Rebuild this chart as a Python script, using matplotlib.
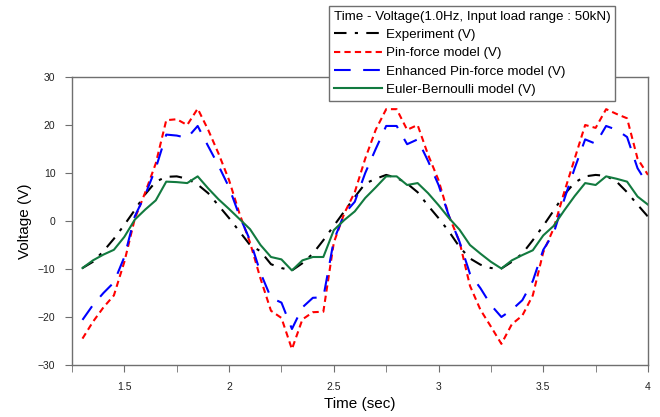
import numpy as np
import matplotlib
matplotlib.use('Agg')
import matplotlib.pyplot as plt
from matplotlib.ticker import MultipleLocator

plt.rcParams['font.family'] = ['Liberation Sans', 'DejaVu Sans']

# time axis (sec), sampled every 0.05 s
time = np.round(np.arange(1.30, 4.0001, 0.05), 2)

experiment = [-9.8, -8.5, -6.3, -3.7, -0.8, 2.3, 5.6, 8.2, 9.2, 9.3,
              8.8, 7.6, 5.8, 3.2, 0.6, -2.2, -5.0, -6.3, -9.0, -9.8,
              -10.3, -8.8, -6.8, -4.0, -1.0, 2.0, 5.0, 7.8, 8.8, 9.6,
              9.0, 7.8, 6.0, 3.2, 0.6, -2.2, -5.4, -7.8, -9.1, -9.8,
              -9.9, -8.5, -6.8, -4.0, -1.0, 2.2, 5.5, 8.0, 9.3, 9.6,
              9.4, 8.2, 6.0, 3.4, 0.9]
pin_force = [-24.5, -21.0, -18.0, -15.5, -8.5, 0.5, 6.0, 12.0, 21.0, 21.2,
             20.0, 23.4, 19.0, 14.0, 8.5, 1.5, -4.5, -12.0, -18.7, -20.2,
             -26.7, -20.5, -19.0, -18.9, -4.5, 1.6, 6.0, 13.0, 19.0, 23.3,
             23.3, 19.0, 20.0, 13.8, 8.5, 1.0, -4.3, -13.5, -18.5, -22.0,
             -25.6, -21.5, -19.7, -15.5, -6.5, -1.5, 6.0, 13.0, 20.0, 19.4,
             23.3, 22.3, 21.4, 13.0, 9.6]
enhanced = [-20.6, -17.5, -15.0, -12.8, -7.5, 1.0, 5.5, 11.0, 18.0, 17.8,
            17.3, 19.8, 15.6, 11.5, 7.0, 1.0, -4.0, -10.8, -16.0, -17.0,
            -22.5, -18.0, -16.0, -15.9, -4.0, 1.5, 4.0, 10.0, 15.0, 19.8,
            19.8, 16.0, 17.0, 12.5, 7.5, 1.0, -4.3, -11.0, -14.0, -17.5,
            -20.0, -18.5, -16.5, -12.5, -6.0, -2.5, 4.5, 11.0, 17.0, 16.1,
            19.8, 19.0, 17.5, 11.0, 7.5]
euler = [-9.8, -8.2, -7.0, -6.0, -3.3, 0.3, 2.4, 4.3, 8.2, 8.1,
         7.9, 9.3, 6.8, 4.5, 2.5, 0.4, -1.7, -5.0, -7.5, -8.0,
         -10.3, -8.2, -7.5, -7.5, -1.9, 0.2, 2.0, 4.8, 7.0, 9.3,
         9.3, 7.5, 7.9, 5.8, 3.3, 0.6, -1.8, -5.0, -6.8, -8.5,
         -9.9, -8.2, -7.1, -6.1, -3.0, -1.0, 2.2, 5.2, 7.9, 7.5,
         9.3, 8.8, 8.2, 5.1, 3.4]

fig = plt.figure(figsize=(6.6, 4.17), dpi=100)
ax = fig.add_axes([72/660, 1 - 365/417, 576/660, 288/417])

ax.plot(time, experiment, color='black', lw=1.5, ls=(0, (6, 4, 1.5, 4)),
        label='Experiment (V)')
ax.plot(time, pin_force, color='#ff0000', lw=1.5, ls=(0, (3, 2)),
        label='Pin-force model (V)')
ax.plot(time, enhanced, color='#0000ff', lw=1.5, ls=(0, (8, 6)),
        label='Enhanced Pin-force model (V)')
ax.plot(time, euler, color='#127a3f', lw=1.5, ls='-',
        label='Euler-Bernoulli model (V)')

ax.set_xlim(1.25, 4.0)
ax.set_ylim(-30, 30)
ax.xaxis.set_minor_locator(MultipleLocator(0.25))
ax.yaxis.set_major_locator(MultipleLocator(10))
ax.set_xticks([1.5, 2, 2.5, 3, 3.5, 4])
ax.set_xticklabels(['1.5', '2', '2.5', '3', '3.5', '4'])

for s in ax.spines.values():
    s.set_color('#6f6f6f')
    s.set_linewidth(1)
ax.tick_params(which='both', direction='out', color='#6f6f6f', labelsize=7.5,
               labelcolor='#222222')
ax.tick_params(which='major', length=5, pad=7)
ax.tick_params(which='minor', length=5)

ax.set_xlabel('Time (sec)', fontsize=11, labelpad=4)
ax.set_ylabel('Voltage (V)', fontsize=11, labelpad=4)

leg = fig.legend(loc='upper left', bbox_to_anchor=(329/660, 1 - 6/417),
                 title='Time - Voltage(1.0Hz, Input load range : 50kN)',
                 fontsize=9.6, title_fontsize=9.6, frameon=True, fancybox=False,
                 handlelength=3.6, labelspacing=0.45, borderpad=0.35,
                 handletextpad=0.3, borderaxespad=0)
leg._legend_box.align = 'left'
leg.get_frame().set_edgecolor('#6f6f6f')
leg.get_frame().set_linewidth(1)
leg.get_frame().set_alpha(1)

fig.savefig('out.png', dpi=100)
